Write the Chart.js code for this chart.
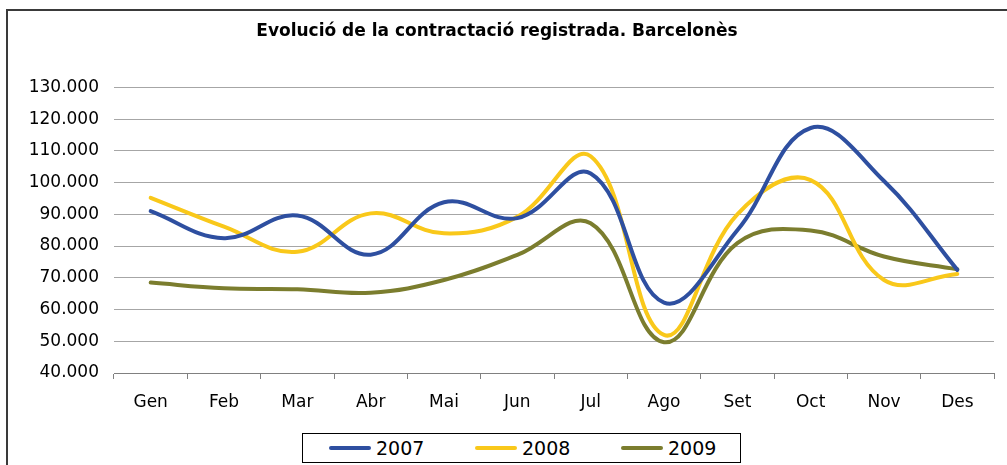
<!DOCTYPE html>
<html>
<head>
<meta charset="utf-8">
<script src="https://cdn.jsdelivr.net/npm/chart.js@4.4.1/dist/chart.umd.min.js"></script>
<style>
  html, body { margin: 0; padding: 0; background: #ffffff; }
  #wrap { position: relative; width: 1007px; height: 465px; overflow: hidden; }
  canvas { display: block; }
  #legend {
    position: absolute; left: 302px; top: 433px; width: 437px; height: 28px;
    border: 1px solid #000; background: #fff; padding: 0 0 0 0;
    font-family: 'DejaVu Sans', sans-serif; font-size: 19px; color: #000;
  }
  .item { position: absolute; top: 0; width: 146px; height: 28px; }
  .sample { position: absolute; left: 0; top: 12px; width: 42px; height: 4px; border-radius: 2px; }
  .txt { position: absolute; left: 47px; top: 0; line-height: 28px; white-space: nowrap; }
</style>
</head>
<body>
<div id="wrap"><canvas id="c" width="1007" height="465"></canvas><div id="legend"></div></div>
<script>
const titleText = 'Evolució de la contractació registrada. Barcelonès';
const months = ['Gen', 'Feb', 'Mar', 'Abr', 'Mai', 'Jun', 'Jul', 'Ago', 'Set', 'Oct', 'Nov', 'Des'];
const seriesNames = ['2007', '2008', '2009'];
const values2007 = [91000, 82500, 89600, 77300, 93800, 88800, 102900, 62200, 85000, 117200, 100500, 72500];
const values2008 = [95200, 86100, 78200, 90300, 84000, 89200, 108300, 52000, 90000, 100800, 69300, 71200];
const values2009 = [68500, 66700, 66400, 65300, 69300, 77200, 87200, 49700, 80900, 84900, 76700, 72700];
const yMin = 40000, yMax = 130000, yStep = 10000;
const seriesColors = ['#2E4FA0', '#F9C81A', '#7B7D2E'];

const fmt = v => Math.round(v / 1000) + '.000';

// HTML legend built from the series names and colours
const legendEl = document.getElementById('legend');
seriesNames.forEach((name, i) => {
  const item = document.createElement('div');
  item.className = 'item';
  item.style.left = (26 + i * 146) + 'px';
  const s = document.createElement('div');
  s.className = 'sample';
  s.style.background = seriesColors[i];
  const t = document.createElement('span');
  t.className = 'txt';
  t.textContent = name;
  item.appendChild(s);
  item.appendChild(t);
  legendEl.appendChild(item);
});

const framePlugin = {
  id: 'frame',
  beforeDraw(chart) {
    const ctx = chart.ctx;
    ctx.save();
    ctx.strokeStyle = '#3a3a3a';
    ctx.lineWidth = 2;
    ctx.beginPath();
    ctx.moveTo(7, chart.height + 5);
    ctx.lineTo(7, 10);
    ctx.lineTo(chart.width + 5, 10);
    ctx.stroke();
    ctx.restore();
  }
};

new Chart(document.getElementById('c'), {
  type: 'line',
  data: {
    labels: months,
    datasets: [
      { label: seriesNames[0], data: values2007, borderColor: seriesColors[0], backgroundColor: seriesColors[0], borderWidth: 4 },
      { label: seriesNames[1], data: values2008, borderColor: seriesColors[1], backgroundColor: seriesColors[1], borderWidth: 4 },
      { label: seriesNames[2], data: values2009, borderColor: seriesColors[2], backgroundColor: seriesColors[2], borderWidth: 4 }
    ]
  },
  options: {
    responsive: false,
    animation: false,
    devicePixelRatio: 1,
    layout: { padding: { left: 0, right: 13, top: 0, bottom: 52 } },
    elements: {
      line: { tension: 0.4, fill: false, cubicInterpolationMode: 'default', borderCapStyle: 'round' },
      point: { radius: 0, hoverRadius: 0 }
    },
    plugins: {
      title: {
        display: true,
        text: titleText,
        color: '#000000',
        font: { family: 'DejaVu Sans', size: 17, weight: 'bold' },
        padding: { top: 21, bottom: 46 }
      },
      legend: { display: false },
      tooltip: { enabled: false }
    },
    scales: {
      x: {
        offset: true,
        grid: { display: true, drawOnChartArea: false, drawTicks: true, tickLength: 6, color: '#808080', offset: true },
        border: { display: true, color: '#808080', width: 1 },
        ticks: { color: '#000000', font: { family: 'DejaVu Sans', size: 17 }, padding: 13, maxRotation: 0, autoSkip: false },
        afterFit(scale) { scale.height = 40; }
      },
      y: {
        min: yMin,
        max: yMax,
        grid: { color: '#a6a6a6', lineWidth: 1, drawTicks: false },
        border: { display: false },
        ticks: { stepSize: yStep, color: '#000000', font: { family: 'DejaVu Sans', size: 17 }, padding: 15, callback: v => fmt(v) },
        afterFit(scale) { scale.width = 114; }
      }
    }
  },
  plugins: [framePlugin]
});
</script>
</body>
</html>
